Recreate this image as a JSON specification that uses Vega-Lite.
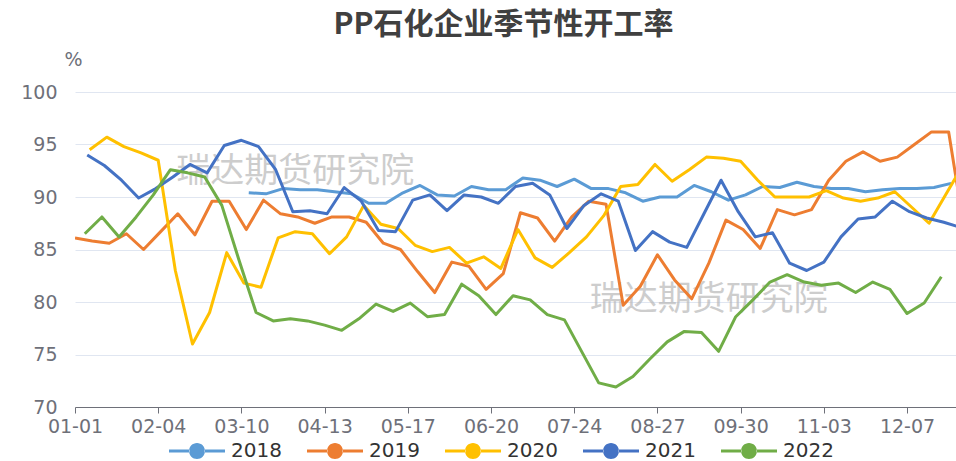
{
  "$schema": "https://vega.github.io/schema/vega-lite/v6.json",
  "width": 881,
  "height": 315,
  "autosize": {"type": "none"},
  "padding": {"left": 75, "top": 92, "right": 0, "bottom": 54},
  "background": "white",
  "title": {"text": "PP石化企业季节性开工率", "font": "Noto Sans CJK SC", "fontSize": 30, "fontWeight": "bold", "color": "#404040", "anchor": "middle", "frame": "group", "offset": 10, "dx": -12},
  "config": {
    "view": {"stroke": null},
    "axisX": {"grid": false, "domainColor": "#6E7079", "tickColor": "#6E7079", "tickSize": 6, "labelPadding": 4, "labelColor": "#6E7079", "labelFont": "DejaVu Sans", "labelFontSize": 19, "title": null, "labelFlush": false, "labelOverlap": false},
    "axisY": {"domain": false, "ticks": false, "grid": true, "gridColor": "#E0E6F1", "labelColor": "#6E7079", "labelFont": "DejaVu Sans", "labelFontSize": 19, "labelPadding": 18}
  },
  "layer": [
    {
      "data": {"values": [{"t": "瑞达期货研究院"}]},
      "mark": {"type": "text", "font": "Noto Sans CJK SC", "fontSize": 34, "color": "#b8b8b8", "opacity": 0.7, "align": "center", "baseline": "middle"},
      "encoding": {"text": {"field": "t"}, "x": {"datum": 90, "type": "quantitative"}, "y": {"datum": 92.4, "type": "quantitative"}}
    },
    {
      "data": {"values": [{"t": "瑞达期货研究院"}]},
      "mark": {"type": "text", "font": "Noto Sans CJK SC", "fontSize": 34, "color": "#b8b8b8", "opacity": 0.7, "align": "center", "baseline": "middle"},
      "encoding": {"text": {"field": "t"}, "x": {"datum": 259, "type": "quantitative"}, "y": {"datum": 80.2, "type": "quantitative"}}
    },
    {
      "data": {"values": [
        {"y":"2018","d":71,"v":90.4},{"y":"2018","d":78,"v":90.3},{"y":"2018","d":85,"v":90.8},{"y":"2018","d":92,"v":90.7},{"y":"2018","d":99,"v":90.7},{"y":"2018","d":106,"v":90.5},{"y":"2018","d":113,"v":90.3},{"y":"2018","d":120,"v":89.4},{"y":"2018","d":127,"v":89.4},{"y":"2018","d":134,"v":90.4},{"y":"2018","d":141,"v":91.1},{"y":"2018","d":148,"v":90.2},{"y":"2018","d":155,"v":90.1},{"y":"2018","d":162,"v":91.0},{"y":"2018","d":169,"v":90.7},{"y":"2018","d":176,"v":90.7},{"y":"2018","d":183,"v":91.8},{"y":"2018","d":190,"v":91.6},{"y":"2018","d":197,"v":91.0},{"y":"2018","d":204,"v":91.7},{"y":"2018","d":211,"v":90.8},{"y":"2018","d":218,"v":90.8},{"y":"2018","d":225,"v":90.4},{"y":"2018","d":232,"v":89.6},{"y":"2018","d":239,"v":90.0},{"y":"2018","d":246,"v":90.0},{"y":"2018","d":253,"v":91.1},{"y":"2018","d":260,"v":90.5},{"y":"2018","d":267,"v":89.7},{"y":"2018","d":274,"v":90.2},{"y":"2018","d":281,"v":91.0},{"y":"2018","d":288,"v":90.9},{"y":"2018","d":295,"v":91.4},{"y":"2018","d":302,"v":91.0},{"y":"2018","d":309,"v":90.8},{"y":"2018","d":316,"v":90.8},{"y":"2018","d":323,"v":90.5},{"y":"2018","d":330,"v":90.7},{"y":"2018","d":337,"v":90.8},{"y":"2018","d":344,"v":90.8},{"y":"2018","d":351,"v":90.9},{"y":"2018","d":358,"v":91.3},
        {"y":"2019","d":0,"v":86.1},{"y":"2019","d":7,"v":85.8},{"y":"2019","d":14,"v":85.6},{"y":"2019","d":21,"v":86.5},{"y":"2019","d":28,"v":85.0},{"y":"2019","d":35,"v":86.7},{"y":"2019","d":42,"v":88.4},{"y":"2019","d":49,"v":86.4},{"y":"2019","d":56,"v":89.6},{"y":"2019","d":63,"v":89.6},{"y":"2019","d":70,"v":86.9},{"y":"2019","d":77,"v":89.7},{"y":"2019","d":84,"v":88.4},{"y":"2019","d":91,"v":88.1},{"y":"2019","d":98,"v":87.5},{"y":"2019","d":105,"v":88.1},{"y":"2019","d":112,"v":88.1},{"y":"2019","d":119,"v":87.6},{"y":"2019","d":126,"v":85.6},{"y":"2019","d":133,"v":85.0},{"y":"2019","d":140,"v":82.9},{"y":"2019","d":147,"v":80.9},{"y":"2019","d":154,"v":83.8},{"y":"2019","d":161,"v":83.4},{"y":"2019","d":168,"v":81.2},{"y":"2019","d":175,"v":82.7},{"y":"2019","d":182,"v":88.5},{"y":"2019","d":189,"v":88.0},{"y":"2019","d":196,"v":85.8},{"y":"2019","d":203,"v":88.1},{"y":"2019","d":210,"v":89.6},{"y":"2019","d":217,"v":89.3},{"y":"2019","d":224,"v":79.7},{"y":"2019","d":231,"v":81.5},{"y":"2019","d":238,"v":84.5},{"y":"2019","d":245,"v":82.1},{"y":"2019","d":252,"v":80.3},{"y":"2019","d":259,"v":83.7},{"y":"2019","d":266,"v":87.8},{"y":"2019","d":273,"v":86.9},{"y":"2019","d":280,"v":85.1},{"y":"2019","d":287,"v":88.8},{"y":"2019","d":294,"v":88.3},{"y":"2019","d":301,"v":88.8},{"y":"2019","d":308,"v":91.6},{"y":"2019","d":315,"v":93.4},{"y":"2019","d":322,"v":94.3},{"y":"2019","d":329,"v":93.4},{"y":"2019","d":336,"v":93.8},{"y":"2019","d":343,"v":95.0},{"y":"2019","d":350,"v":96.2},{"y":"2019","d":357,"v":96.2},{"y":"2019","d":364,"v":86.0},
        {"y":"2020","d":6,"v":94.5},{"y":"2020","d":13,"v":95.7},{"y":"2020","d":20,"v":94.8},{"y":"2020","d":27,"v":94.2},{"y":"2020","d":34,"v":93.5},{"y":"2020","d":41,"v":83.0},{"y":"2020","d":48,"v":76.0},{"y":"2020","d":55,"v":79.0},{"y":"2020","d":62,"v":84.7},{"y":"2020","d":69,"v":81.8},{"y":"2020","d":76,"v":81.4},{"y":"2020","d":83,"v":86.1},{"y":"2020","d":90,"v":86.7},{"y":"2020","d":97,"v":86.5},{"y":"2020","d":104,"v":84.6},{"y":"2020","d":111,"v":86.2},{"y":"2020","d":118,"v":89.2},{"y":"2020","d":125,"v":87.4},{"y":"2020","d":132,"v":87.0},{"y":"2020","d":139,"v":85.4},{"y":"2020","d":146,"v":84.8},{"y":"2020","d":153,"v":85.2},{"y":"2020","d":160,"v":83.7},{"y":"2020","d":167,"v":84.3},{"y":"2020","d":174,"v":83.2},{"y":"2020","d":181,"v":86.9},{"y":"2020","d":188,"v":84.2},{"y":"2020","d":195,"v":83.3},{"y":"2020","d":202,"v":84.7},{"y":"2020","d":209,"v":86.2},{"y":"2020","d":216,"v":88.2},{"y":"2020","d":223,"v":91.0},{"y":"2020","d":230,"v":91.2},{"y":"2020","d":237,"v":93.1},{"y":"2020","d":244,"v":91.5},{"y":"2020","d":251,"v":92.6},{"y":"2020","d":258,"v":93.8},{"y":"2020","d":265,"v":93.7},{"y":"2020","d":272,"v":93.4},{"y":"2020","d":279,"v":91.6},{"y":"2020","d":286,"v":90.0},{"y":"2020","d":293,"v":90.0},{"y":"2020","d":300,"v":90.0},{"y":"2020","d":307,"v":90.6},{"y":"2020","d":314,"v":89.9},{"y":"2020","d":321,"v":89.6},{"y":"2020","d":328,"v":89.9},{"y":"2020","d":335,"v":90.5},{"y":"2020","d":342,"v":89.0},{"y":"2020","d":349,"v":87.5},{"y":"2020","d":356,"v":90.3},{"y":"2020","d":363,"v":93.1},
        {"y":"2021","d":5,"v":94.0},{"y":"2021","d":12,"v":93.0},{"y":"2021","d":19,"v":91.6},{"y":"2021","d":26,"v":89.9},{"y":"2021","d":33,"v":90.8},{"y":"2021","d":40,"v":91.9},{"y":"2021","d":47,"v":93.1},{"y":"2021","d":54,"v":92.3},{"y":"2021","d":61,"v":94.9},{"y":"2021","d":68,"v":95.4},{"y":"2021","d":75,"v":94.8},{"y":"2021","d":82,"v":92.6},{"y":"2021","d":89,"v":88.6},{"y":"2021","d":96,"v":88.7},{"y":"2021","d":103,"v":88.4},{"y":"2021","d":110,"v":90.9},{"y":"2021","d":117,"v":89.6},{"y":"2021","d":124,"v":86.8},{"y":"2021","d":131,"v":86.7},{"y":"2021","d":138,"v":89.7},{"y":"2021","d":145,"v":90.2},{"y":"2021","d":152,"v":88.7},{"y":"2021","d":159,"v":90.2},{"y":"2021","d":166,"v":90.0},{"y":"2021","d":173,"v":89.4},{"y":"2021","d":180,"v":91.0},{"y":"2021","d":187,"v":91.3},{"y":"2021","d":194,"v":90.2},{"y":"2021","d":201,"v":87.0},{"y":"2021","d":208,"v":89.2},{"y":"2021","d":215,"v":90.3},{"y":"2021","d":222,"v":89.6},{"y":"2021","d":229,"v":84.9},{"y":"2021","d":236,"v":86.7},{"y":"2021","d":243,"v":85.7},{"y":"2021","d":250,"v":85.2},{"y":"2021","d":257,"v":88.4},{"y":"2021","d":264,"v":91.6},{"y":"2021","d":271,"v":88.6},{"y":"2021","d":278,"v":86.2},{"y":"2021","d":285,"v":86.6},{"y":"2021","d":292,"v":83.7},{"y":"2021","d":299,"v":83.0},{"y":"2021","d":306,"v":83.8},{"y":"2021","d":313,"v":86.2},{"y":"2021","d":320,"v":87.9},{"y":"2021","d":327,"v":88.1},{"y":"2021","d":334,"v":89.6},{"y":"2021","d":341,"v":88.6},{"y":"2021","d":348,"v":88.0},{"y":"2021","d":355,"v":87.6},{"y":"2021","d":362,"v":87.1},
        {"y":"2022","d":4,"v":86.5},{"y":"2022","d":11,"v":88.1},{"y":"2022","d":18,"v":86.2},{"y":"2022","d":25,"v":88.1},{"y":"2022","d":32,"v":90.2},{"y":"2022","d":39,"v":92.6},{"y":"2022","d":46,"v":92.3},{"y":"2022","d":53,"v":91.9},{"y":"2022","d":60,"v":89.2},{"y":"2022","d":67,"v":84.0},{"y":"2022","d":74,"v":79.0},{"y":"2022","d":81,"v":78.2},{"y":"2022","d":88,"v":78.4},{"y":"2022","d":95,"v":78.2},{"y":"2022","d":102,"v":77.8},{"y":"2022","d":109,"v":77.3},{"y":"2022","d":116,"v":78.4},{"y":"2022","d":123,"v":79.8},{"y":"2022","d":130,"v":79.1},{"y":"2022","d":137,"v":79.9},{"y":"2022","d":144,"v":78.6},{"y":"2022","d":151,"v":78.8},{"y":"2022","d":158,"v":81.7},{"y":"2022","d":165,"v":80.6},{"y":"2022","d":172,"v":78.8},{"y":"2022","d":179,"v":80.6},{"y":"2022","d":186,"v":80.2},{"y":"2022","d":193,"v":78.8},{"y":"2022","d":200,"v":78.3},{"y":"2022","d":207,"v":75.3},{"y":"2022","d":214,"v":72.3},{"y":"2022","d":221,"v":71.9},{"y":"2022","d":228,"v":72.9},{"y":"2022","d":235,"v":74.6},{"y":"2022","d":242,"v":76.2},{"y":"2022","d":249,"v":77.2},{"y":"2022","d":256,"v":77.1},{"y":"2022","d":263,"v":75.3},{"y":"2022","d":270,"v":78.6},{"y":"2022","d":277,"v":80.2},{"y":"2022","d":284,"v":81.9},{"y":"2022","d":291,"v":82.6},{"y":"2022","d":298,"v":81.9},{"y":"2022","d":305,"v":81.6},{"y":"2022","d":312,"v":81.8},{"y":"2022","d":319,"v":80.9},{"y":"2022","d":326,"v":81.9},{"y":"2022","d":333,"v":81.2},{"y":"2022","d":340,"v":78.9},{"y":"2022","d":347,"v":79.9},{"y":"2022","d":354,"v":82.4}
      ]},
      "mark": {"type": "line", "strokeWidth": 3, "clip": true, "strokeJoin": "round"},
      "encoding": {
        "x": {"field": "d", "type": "quantitative", "scale": {"domain": [0, 360], "nice": false, "zero": false},
              "axis": {"values": [0,34,68,102,136,170,204,238,272,306,340], "labelExpr": "['01-01','02-04','03-10','04-13','05-17','06-20','07-24','08-27','09-30','11-03','12-07'][round(datum.value/34)]", "title": null}},
        "y": {"field": "v", "type": "quantitative", "scale": {"domain": [70, 100], "nice": false, "zero": false},
              "axis": {"values": [70,75,80,85,90,95,100], "title": "%", "titleAngle": 0, "titleX": -2, "titleY": -33, "titleAlign": "center", "titleBaseline": "middle", "titleFont": "DejaVu Sans", "titleFontSize": 19, "titleFontWeight": "normal", "titleColor": "#6E7079"}},
        "color": {"field": "y", "type": "nominal",
                  "scale": {"domain": ["2018","2019","2020","2021","2022"], "range": ["#5B9BD5","#ED7D31","#FFC000","#4472C4","#70AD47"]},
                  "legend": {"title": null, "orient": "none", "legendX": 94, "legendY": 331, "direction": "horizontal",
                             "symbolType": "M-1,-0.055L-0.27,-0.055L-0.27,0.055L-1,0.055Z M0.27,-0.055L1,-0.055L1,0.055L0.27,0.055Z M-0.286,0A0.286,0.286 0 1,0 0.286,0A0.286,0.286 0 1,0 -0.286,0Z",
                             "symbolSize": 3136, "symbolStrokeWidth": 0, "labelFont": "DejaVu Sans", "labelFontSize": 20, "labelColor": "#333333", "columnPadding": 25, "labelOffset": 6,
                             "encode": {"symbols": {"update": {"fill": {"scale": "color", "field": "value"}, "opacity": {"value": 1}}}}}}
      }
    }
  ]
}
